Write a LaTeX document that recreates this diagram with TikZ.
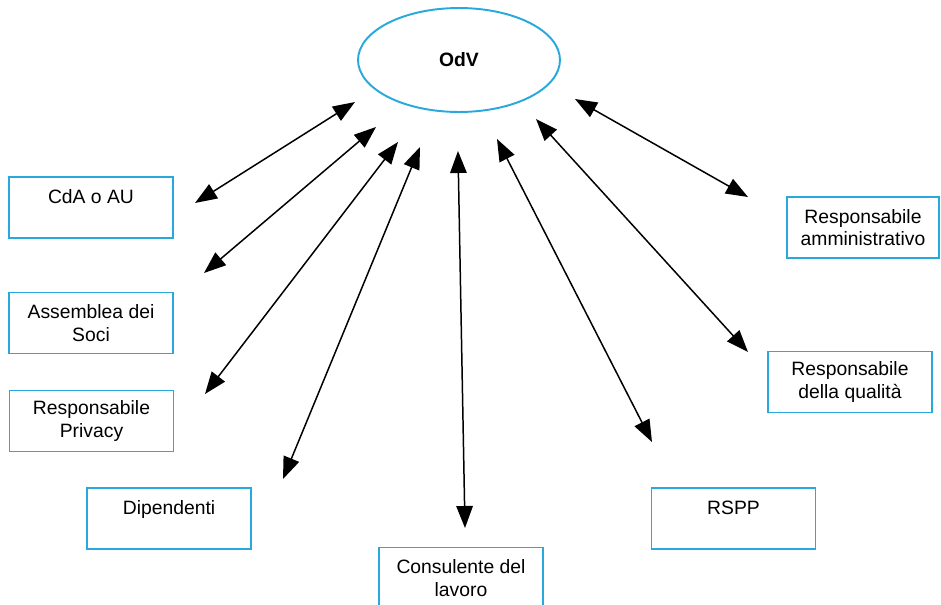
\documentclass[tikz,border=0pt]{standalone}
\usepackage{fontspec}
\setmainfont{Liberation Sans}
\usetikzlibrary{arrows.meta,shapes.geometric}
\definecolor{odvblue}{RGB}{41,168,222}

\begin{document}
\begin{tikzpicture}[x=0.02cm, y=-0.02cm,
    font=\fontsize{11}{12.8}\selectfont,
    link/.style={{Triangle[length=0.44cm,width=0.33cm]}-{Triangle[length=0.44cm,width=0.33cm]}, line width=0.85pt, black}]

      \useasboundingbox (0,0) rectangle (941,605);

      \node[ellipse, draw=odvblue, line width=1.1pt, minimum width=4.04cm, minimum height=2.08cm, font=\fontsize{11}{12.8}\selectfont\bfseries] (odv) at (459,60) {OdV};

      \begin{scope}[every node/.style={rectangle, draw=odvblue, line width=1.1pt, align=center, minimum width=3.28cm, minimum height=1.22cm, inner sep=0pt}]
        \node (cda)     at (91,207.5)  {CdA o AU\\~};
        \node (soci)    at (91,323)    {Assemblea dei\\Soci};
        \node (privacy) at (91.5,421)  {Responsabile\\Privacy};
        \node (dip)     at (169,518.5) {Dipendenti\\~};
        \node (cons)    at (461,578)   {Consulente del\\lavoro};
        \node (rspp)    at (733.5,518.5) {RSPP\\~};
        \node (qual)    at (850,382)   {Responsabile\\della qualità};
        \node[minimum width=3.04cm] (amm) at (863,227.5) {Responsabile\\amministrativo};
      \end{scope}

      % arrow ends near OdV
      \coordinate (o1) at (355,102);
      \coordinate (o2) at (376,127);
      \coordinate (o3) at (398,142);
      \coordinate (o4) at (420,147);
      \coordinate (o5) at (458,151);
      \coordinate (o6) at (497,139);
      \coordinate (o7) at (536,119);
      \coordinate (o8) at (575,99);

      % arrow ends near the boxes
      \coordinate (cda-end)     at (195,203);
      \coordinate (soci-end)    at (204,273);
      \coordinate (privacy-end) at (205,394);
      \coordinate (dip-end)     at (283,479);
      \coordinate (cons-end)    at (465,528);
      \coordinate (rspp-end)    at (652,442);
      \coordinate (qual-end)    at (748,352);
      \coordinate (amm-end)     at (748,197);

      \draw[link] (o1) -- (cda-end);
      \draw[link] (o2) -- (soci-end);
      \draw[link] (o3) -- (privacy-end);
      \draw[link] (o4) -- (dip-end);
      \draw[link] (o5) -- (cons-end);
      \draw[link] (o6) -- (rspp-end);
      \draw[link] (o7) -- (qual-end);
      \draw[link] (o8) -- (amm-end);

    \end{tikzpicture}
\end{document}
